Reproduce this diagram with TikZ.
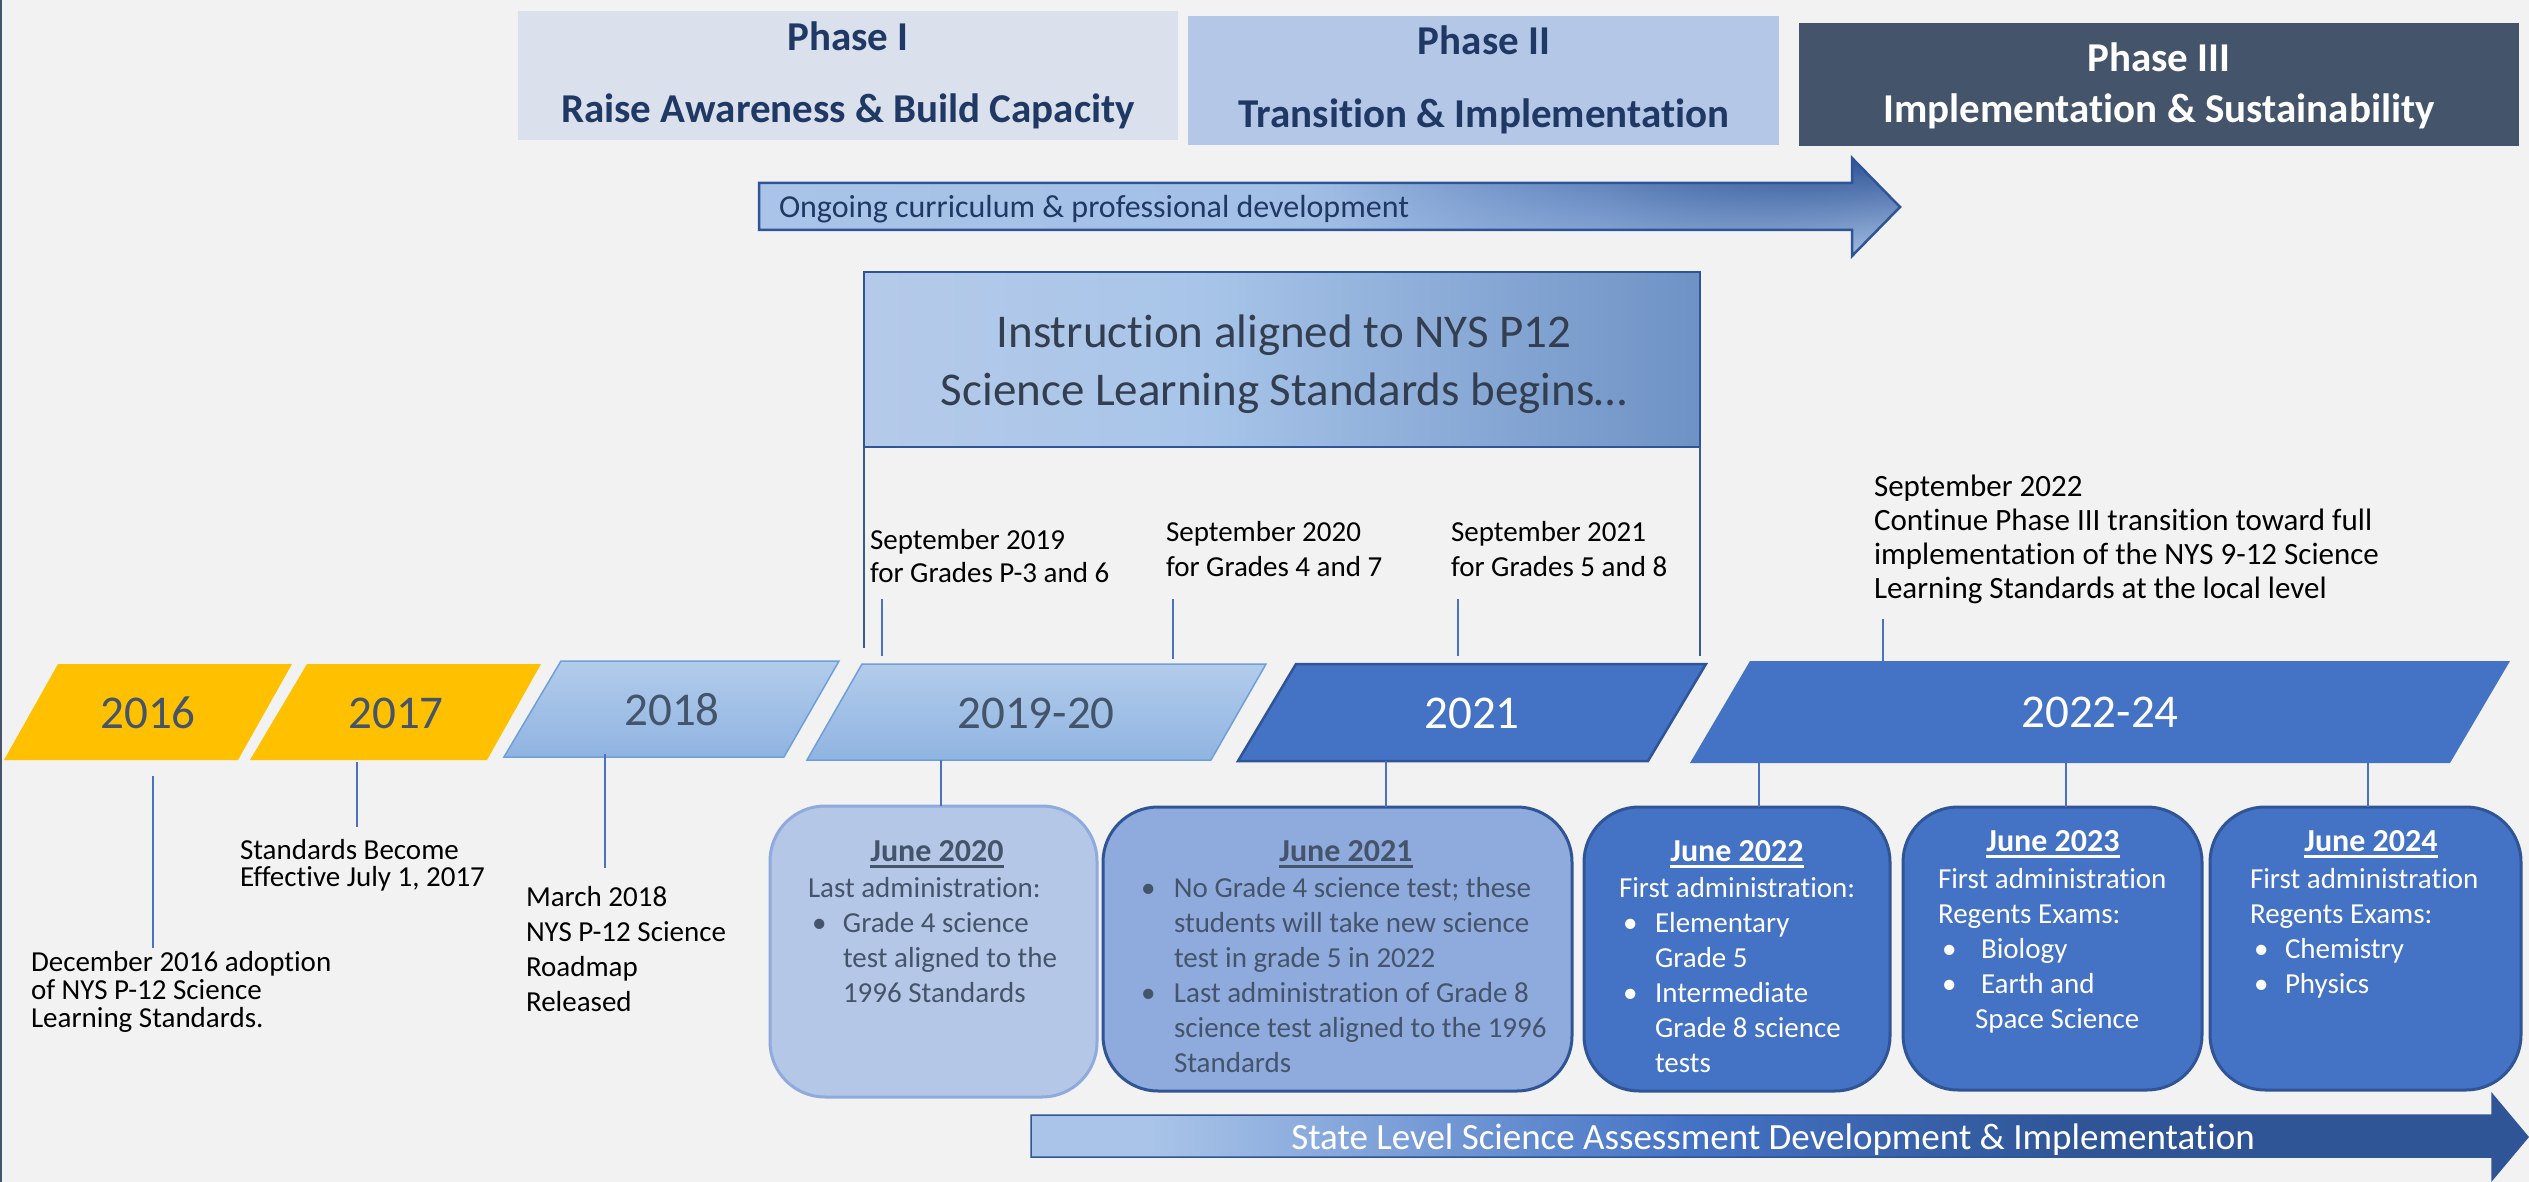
\documentclass[tikz,border=0pt]{standalone}
\usepackage{fontspec}
\setmainfont{Carlito}[Ligatures={NoCommon,NoRequired,NoContextual}]
\usetikzlibrary{fadings}
\setlength{\lineskiplimit}{-200pt}
\definecolor{bg}{HTML}{F2F2F2}
\definecolor{phA}{HTML}{DAE1ED}
\definecolor{phB}{HTML}{B4C7E7}
\definecolor{phC}{HTML}{44546A}
\definecolor{navy}{HTML}{1F3864}
\definecolor{gold}{HTML}{FFC000}
\definecolor{slate}{HTML}{44546A}
\definecolor{lbT}{HTML}{B2CCEB}
\definecolor{lbB}{HTML}{90B4E1}
\definecolor{lbD}{HTML}{6F9FDB}
\definecolor{mid}{HTML}{4472C4}
\definecolor{dk}{HTML}{2F5597}
\definecolor{jA}{HTML}{B4C7E7}
\definecolor{jAd}{HTML}{8FAADC}
\definecolor{jB}{HTML}{8FAADC}
\definecolor{itxt}{HTML}{333F50}
\definecolor{lineblue}{HTML}{4A72C0}
\definecolor{brkc}{HTML}{3A5A8C}
\definecolor{cA1}{HTML}{A9C4E8}
\definecolor{cA2}{HTML}{A2BFE6}
\definecolor{cA3}{HTML}{7A9CD2}
\definecolor{cI1}{HTML}{B5CAE9}
\definecolor{cI2}{HTML}{A8C5E9}
\definecolor{cI3}{HTML}{6E92C5}
\pgfdeclarehorizontalshading{arrA}{100bp}{color(0bp)=(cA1); color(25bp)=(cA1); color(50bp)=(cA2); color(62bp)=(cA3); color(72bp)=(dk); color(100bp)=(dk)}
\pgfdeclarehorizontalshading{arrB}{100bp}{color(0bp)=(cA1); color(25bp)=(cA1); color(29bp)=(cA1); color(47bp)=(mid); color(60bp)=(dk); color(100bp)=(dk)}
\pgfdeclarehorizontalshading{instrS}{100bp}{color(0bp)=(cI1); color(25bp)=(cI1); color(45bp)=(cI2); color(75bp)=(cI3); color(100bp)=(cI3)}
\newcommand{\tb}[2]{\parbox[t]{#1}{\raggedright #2}}
\newcommand{\cb}[2]{\parbox[t]{#1}{\centering #2}}
\newcommand{\bitem}[2]{\hspace*{#1}\makebox[#2][l]{\textbullet}}
\newcommand{\ulx}[1]{\setbox0\hbox{#1}\rlap{\rule[-6.5pt]{\wd0}{2.5pt}}\box0}
\tikzset{
  conn/.style={draw=lineblue, line width=1.3pt},
  brk/.style={draw=brkc, line width=1.6pt},
  yr/.style={font=\fontsize{47}{56}\selectfont},
  phT/.style={font=\bfseries\fontsize{41}{49}\selectfont, anchor=base},
  jbox/.style={rounded corners=55pt, line width=3pt},
  body/.style={font=\fontsize{29}{35}\selectfont, anchor=base west},
  ttl/.style={font=\bfseries\fontsize{32}{38}\selectfont, anchor=base},
  septT/.style={font=\fontsize{29}{33}\selectfont, anchor=base west, text=black},
}
\begin{document}
\begin{tikzpicture}[x=1pt,y=-1pt, every node/.style={inner sep=0pt, outer sep=0pt}]
\fill[bg] (0,0) rectangle (2529,1182);
\useasboundingbox (0,0) rectangle (2529,1182);
\draw[slate, line width=2pt] (1,0) -- (1,1182);

% Phases
\node[fill=phA, minimum width=660pt, minimum height=129pt] (ph1) at (847.5,75.5) {};
\node[phT, text=navy] (ph1a) at (848,51) {Phase I};
\node[phT, text=navy] (ph1b) at (848,123) {Raise Awareness \& Build Capacity};
\node[fill=phB, minimum width=591pt, minimum height=129pt] (ph2) at (1483.5,80.5) {};
\node[phT, text=navy] (ph2a) at (1484,55) {Phase II};
\node[phT, text=navy] (ph2b) at (1484,128) {Transition \& Implementation};
\node[fill=phC, minimum width=720pt, minimum height=123pt] (ph3) at (2159,84.5) {};
\node[phT, text=white] (ph3a) at (2159,72) {Phase III};
\node[phT, text=white] (ph3b) at (2159,123) {Implementation \& Sustainability};

% Ongoing arrow
\shade[shading=arrA] (759,183) -- (1852,183) -- (1852,158) -- (1900,207) -- (1852,256) -- (1852,230) -- (759,230) -- cycle;
\begin{scope}
\clip (759,183) -- (1852,183) -- (1852,158) -- (1900,207) -- (1852,256) -- (1852,230) -- (759,230) -- cycle;
\shade[top color=dk, bottom color=cA1, path fading=west] (1300,158) rectangle (1900,256);
\end{scope}
\draw[dk, line width=2.5pt] (759,183) -- (1852,183) -- (1852,158) -- (1900,207) -- (1852,256) -- (1852,230) -- (759,230) -- cycle;
\node[font=\fontsize{32}{38}\selectfont, text=navy, anchor=base west] (ongo) at (779,218) {Ongoing curriculum \& professional development};

% Instruction box
\node[shade, shading=instrS, draw=dk, line width=2pt, minimum width=836pt, minimum height=175pt] (instr) at (1282,359.5) {};
\node[font=\fontsize{47}{58}\selectfont, text=itxt, anchor=base] (instrT) at (1284,347) {\cb{836pt}{Instruction aligned to NYS P12\\Science Learning Standards begins…}};
\coordinate (brkL) at (864,648);
\coordinate (brkR) at (1700,656);
\draw[brk] (instr.south west) -- (brkL);
\draw[brk] (instr.south east) -- (brkR);

% September notes
\node[septT] (s19) at (870,549) {\tb{300pt}{September 2019\\for Grades P-3 and 6}};
\node[septT, font=\fontsize{29}{35}\selectfont] (s20) at (1166,541) {\tb{300pt}{September 2020\\for Grades 4 and 7}};
\node[septT, font=\fontsize{29}{35}\selectfont] (s21) at (1451,541) {\tb{300pt}{September 2021\\for Grades 5 and 8}};
\node[septT, font=\fontsize{31}{34.3}\selectfont] (s22) at (1874,496) {\tb{640pt}{September 2022\\Continue Phase III transition toward full\\implementation of the NYS 9-12 Science\\Learning Standards at the local level}};
\coordinate (s19a) at (882,599); \coordinate (s19b) at (882,656);
\coordinate (s20a) at (1173,599); \coordinate (s20b) at (1173,659);
\coordinate (s21a) at (1458,599); \coordinate (s21b) at (1458,656);
\coordinate (s22a) at (1883,619); \coordinate (s22b) at (1883,661);
\draw[conn] (s19a) -- (s19b);
\draw[conn] (s20a) -- (s20b);
\draw[conn] (s21a) -- (s21b);
\draw[conn] (s22a) -- (s22b);

% Year bars
\fill[gold] (58,664) -- (292,664) -- (238,760) -- (4,760) -- cycle;
\node[yr, text=slate] (y16) at (148,713) {2016};
\fill[gold] (307,664) -- (541,664) -- (487,760) -- (250,760) -- cycle;
\node[yr, text=slate] (y17) at (396,713) {2017};
\shade[top color=lbT, bottom color=lbB, draw=lbD, line width=1.5pt] (561,661) -- (839,661) -- (784,757) -- (504,757) -- cycle;
\node[yr, text=slate] (y18) at (672,710) {2018};
\shade[top color=lbT, bottom color=lbB, draw=lbD, line width=1.5pt] (862,664) -- (1266,664) -- (1211,760) -- (807,760) -- cycle;
\node[yr, text=slate] (y19) at (1036,713) {2019-20};
\filldraw[fill=mid, draw=dk, line width=2.5pt] (1296,664) -- (1706,664) -- (1648,761) -- (1238,761) -- cycle;
\node[yr, text=white] (y21) at (1472,713) {2021};
\fill[mid] (1750,661) -- (2510,661) -- (2450,763) -- (1690,763) -- cycle;
\node[yr, text=white] (y22) at (2100,712) {2022-24};

% Early notes
\node[anchor=base west, font=\fontsize{29}{28.3}\selectfont] (n16) at (31,971) {\tb{400pt}{December 2016 adoption\\of NYS P-12 Science\\Learning Standards.}};
\node[anchor=base west, font=\fontsize{29}{27.5}\selectfont] (n17) at (240,859) {\tb{400pt}{Standards Become\\Effective July 1, 2017}};
\node[anchor=base west, font=\fontsize{29}{35}\selectfont] (n18) at (526,906) {\tb{400pt}{March 2018\\NYS P-12 Science\\Roadmap\\Released}};
\coordinate (t16a) at (153,776); \coordinate (t16b) at (153,948);
\coordinate (t17a) at (357,762); \coordinate (t17b) at (357,827);
\coordinate (t18a) at (605,754); \coordinate (t18b) at (605,868);
\draw[conn] (t16a) -- (t16b);
\draw[conn] (t17a) -- (t17b);
\draw[conn] (t18a) -- (t18b);

% June boxes
\node[jbox, fill=jA, draw=jAd, minimum width=327pt, minimum height=291pt] (j20) at (933.5,951.5) {};
\node[jbox, fill=jB, draw=dk, minimum width=469pt, minimum height=284pt] (j21) at (1337.5,949) {};
\node[jbox, fill=mid, draw=dk, minimum width=306pt, minimum height=284pt] (j22) at (1737,949) {};
\node[jbox, fill=mid, draw=dk, minimum width=299pt, minimum height=283pt] (j23) at (2052.5,948.5) {};
\node[jbox, fill=mid, draw=dk, minimum width=311pt, minimum height=283pt] (j24) at (2365.5,948.5) {};

\coordinate (u19) at (941,760);
\coordinate (u21) at (1386,761);
\coordinate (u22a) at (1759,763);
\coordinate (u22b) at (2066,763);
\coordinate (u22c) at (2368,763);
\draw[conn] (u19) -- (u19 |- j20.north);
\draw[conn] (u21) -- (u21 |- j21.north);
\draw[conn] (u22a) -- (u22a |- j22.north);
\draw[conn] (u22b) -- (u22b |- j23.north);
\draw[conn] (u22c) -- (u22c |- j24.north);

\node[ttl, text=slate] (j20t) at (937,861) {\ulx{June 2020}};
\node[body, text=slate] (j20b) at (808,897) {\tb{300pt}{Last administration:\\\bitem{4pt}{31pt}Grade 4 science\\\hspace*{35pt}test aligned to the\\\hspace*{35pt}1996 Standards}};

\node[ttl, text=slate] (j21t) at (1346,861) {\ulx{June 2021}};
\node[body, text=slate] (j21b) at (1141,897) {\tb{440pt}{\bitem{0pt}{33pt}No Grade 4 science test; these\\\hspace*{33pt}students will take new science\\\hspace*{33pt}test in grade 5 in 2022\\\bitem{0pt}{33pt}Last administration of Grade 8\\\hspace*{33pt}science test aligned to the 1996\\\hspace*{33pt}Standards}};

\node[ttl, text=white] (j22t) at (1737,861) {\ulx{June 2022}};
\node[body, text=white] (j22b) at (1619,897) {\tb{300pt}{First administration:\\\bitem{4pt}{32pt}Elementary\\\hspace*{36pt}Grade 5\\\bitem{4pt}{32pt}Intermediate\\\hspace*{36pt}Grade 8 science\\\hspace*{36pt}tests}};

\node[ttl, text=white] (j23t) at (2053,851) {\ulx{June 2023}};
\node[body, text=white] (j23b) at (1938,888) {\tb{300pt}{First administration\\Regents Exams:\\\bitem{4pt}{39pt}Biology\\\bitem{4pt}{39pt}Earth and\\\hspace*{37pt}Space Science}};

\node[ttl, text=white] (j24t) at (2371,851) {\ulx{June 2024}};
\node[body, text=white] (j24b) at (2250,888) {\tb{300pt}{First administration\\Regents Exams:\\\bitem{4pt}{31pt}Chemistry\\\bitem{4pt}{31pt}Physics}};

% State level arrow
\shade[shading=arrB, draw=dk, line width=1.5pt] (1031,1115) -- (2492,1115) -- (2492,1094) -- (2528,1137) -- (2492,1180) -- (2492,1157) -- (1031,1157) -- cycle;
\node[font=\fontsize{37}{44}\selectfont, text=white, anchor=base] (state) at (1773,1149) {State Level Science Assessment Development \& Implementation};
\end{tikzpicture}
\end{document}
